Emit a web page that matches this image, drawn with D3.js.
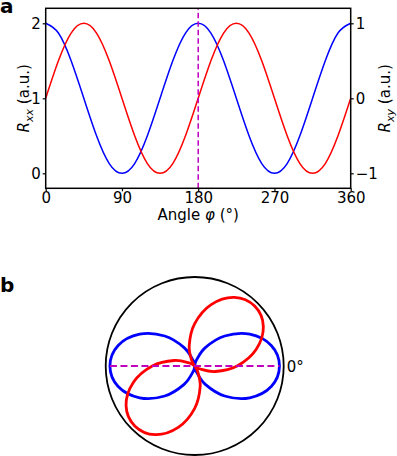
<!DOCTYPE html>
<html>
<head>
<meta charset="utf-8">
<title>Rxx and Rxy vs angle</title>
<script src="https://d3js.org/d3.v7.min.js"></script>
<style>
  body { margin: 0; background: #fff; }
  text { font-family: "DejaVu Sans", sans-serif; }
  .axis path, .axis line { stroke: #000; }
</style>
</head>
<body>
<svg id="chart" width="397" height="456"></svg>
<script>
// angles in degrees, read every 15 deg
var angles = [0, 15, 30, 45, 60, 75, 90, 105, 120, 135, 150, 165, 180,
              195, 210, 225, 240, 255, 270, 285, 300, 315, 330, 345, 360];
// longitudinal resistance (left axis)
var rxx = [2, 1.87, 1.5, 1, 0.5, 0.13, 0, 0.13, 0.5, 1, 1.5, 1.87, 2,
           1.87, 1.5, 1, 0.5, 0.13, 0, 0.13, 0.5, 1, 1.5, 1.87, 2];
// transverse resistance (right axis)
var rxy = [0, 0.5, 0.87, 1, 0.87, 0.5, 0, -0.5, -0.87, -1, -0.87, -0.5, 0,
           0.5, 0.87, 1, 0.87, 0.5, 0, -0.5, -0.87, -1, -0.87, -0.5, 0];
var xTicks = [0, 90, 180, 270, 360];
var leftTicks = [0, 1, 2];
var rightTicks = [-1, 0, 1];
var markAngle = 180;

var svg = d3.select("#chart");

// ---- panel a ----
var x = d3.scaleLinear().domain([0, 360]).range([45.7, 350.7]);
var yL = d3.scaleLinear().domain([-0.2, 2.2]).range([188.3, 8.3]);
var yR = d3.scaleLinear().domain([-1.2, 1.2]).range([188.3, 8.3]);

var pa = svg.append("g");

var lineL = d3.line()
    .x(function(d, i){ return x(angles[i]); })
    .y(function(d){ return yL(d); })
    .curve(d3.curveNatural);
var lineR = d3.line()
    .x(function(d, i){ return x(angles[i]); })
    .y(function(d){ return yR(d); })
    .curve(d3.curveNatural);

pa.append("path").attr("d", lineL(rxx))
    .attr("fill", "none").attr("stroke", "#0000ff").attr("stroke-width", 1.5);
pa.append("path").attr("d", lineR(rxy))
    .attr("fill", "none").attr("stroke", "#ff0000").attr("stroke-width", 1.5);

// marker line
pa.append("line")
    .attr("x1", x(markAngle)).attr("x2", x(markAngle))
    .attr("y1", yL.range()[0]).attr("y2", yL.range()[1])
    .attr("stroke", "#bf00bf").attr("stroke-width", 1.5)
    .attr("stroke-dasharray", "5.5,3");

// frame
pa.append("rect")
    .attr("x", x(0)).attr("y", yL(2.2))
    .attr("width", x(360) - x(0)).attr("height", yL(-0.2) - yL(2.2))
    .attr("fill", "none").attr("stroke", "#000").attr("stroke-width", 1.5);

var fs = "15px";
var fmt = d3.format("d");
var gx = pa.append("g").attr("class", "axis")
    .attr("transform", "translate(0," + yL(-0.2) + ")")
    .call(d3.axisBottom(x).tickValues(xTicks).tickFormat(fmt)
      .tickSize(3).tickPadding(1.5).tickSizeOuter(0));
var gl = pa.append("g").attr("class", "axis")
    .attr("transform", "translate(" + x(0) + ",0)")
    .call(d3.axisLeft(yL).tickValues(leftTicks).tickFormat(fmt)
      .tickSize(3).tickPadding(2).tickSizeOuter(0));
var gr = pa.append("g").attr("class", "axis")
    .attr("transform", "translate(" + x(360) + ",0)")
    .call(d3.axisRight(yR).tickValues(rightTicks).tickFormat(fmt)
      .tickSize(3).tickPadding(2).tickSizeOuter(0));
[gx, gl, gr].forEach(function(g){
  g.select(".domain").remove();
  g.selectAll("line").attr("stroke-width", 1.2);
  g.selectAll("text").attr("font-size", fs).attr("fill", "#000")
    .style("font-family", "DejaVu Sans");
});

// axis labels
var xl = pa.append("text").attr("x", x(180)).attr("y", 219.5)
    .attr("text-anchor", "middle").attr("font-size", fs);
xl.append("tspan").text("Angle ");
xl.append("tspan").attr("font-style", "italic").text("φ");
xl.append("tspan").text(" (°)");

function ylabel(px, sub) {
  var t = pa.append("text")
      .attr("transform", "translate(" + px + "," + yL(1) + ") rotate(-90)")
      .attr("text-anchor", "middle").attr("font-size", fs);
  t.append("tspan").attr("font-style", "italic").text("R");
  t.append("tspan").attr("font-style", "italic").attr("font-size", "11px")
      .attr("dy", 4).text(sub);
  t.append("tspan").attr("dy", -4).text(" (a.u.)");
}
ylabel(28.5, "xx");
ylabel(389.5, "xy");

svg.append("text").attr("x", 0).attr("y", 13).attr("font-size", "20px")
    .attr("font-weight", "bold").text("a");
svg.append("text").attr("x", 0).attr("y", 292).attr("font-size", "20px")
    .attr("font-weight", "bold").text("b");

// ---- panel b (polar) ----
var cx = 194.7, cy = 366, R = 89;
var r = d3.scaleLinear().domain([0, 2.1]).range([0, R]);
var pb = svg.append("g").attr("transform", "translate(" + cx + "," + cy + ")");

// d3 radial angle: 0 at top, clockwise; math angle: 0 at right, counter-clockwise
var radial = d3.lineRadial()
    .angle(function(d, i){ return Math.PI / 2 - angles[i] * Math.PI / 180; })
    .radius(function(d){ return r(d); })
    .curve(d3.curveCardinalClosed.tension(0));

pb.append("circle").attr("r", R)
    .attr("fill", "none").attr("stroke", "#000").attr("stroke-width", 1.8);

pb.append("path").attr("d", radial(rxx.slice(0, -1)))
    .attr("fill", "none").attr("stroke", "#0000ff").attr("stroke-width", 2.8);
pb.append("path").attr("d", radial(rxy.slice(0, -1).map(function(v){ return v + 1; })))
    .attr("fill", "none").attr("stroke", "#ff0000").attr("stroke-width", 2.8);

// marker line along 0 / 180 deg
pb.append("line")
    .attr("x1", -r(2)).attr("x2", r(2)).attr("y1", 0).attr("y2", 0)
    .attr("stroke", "#bf00bf").attr("stroke-width", 1.8)
    .attr("stroke-dasharray", "7,3.5");

pb.append("text").attr("x", R + 3).attr("y", 5.5)
    .attr("font-size", fs).text("0°");
</script>
</body>
</html>
